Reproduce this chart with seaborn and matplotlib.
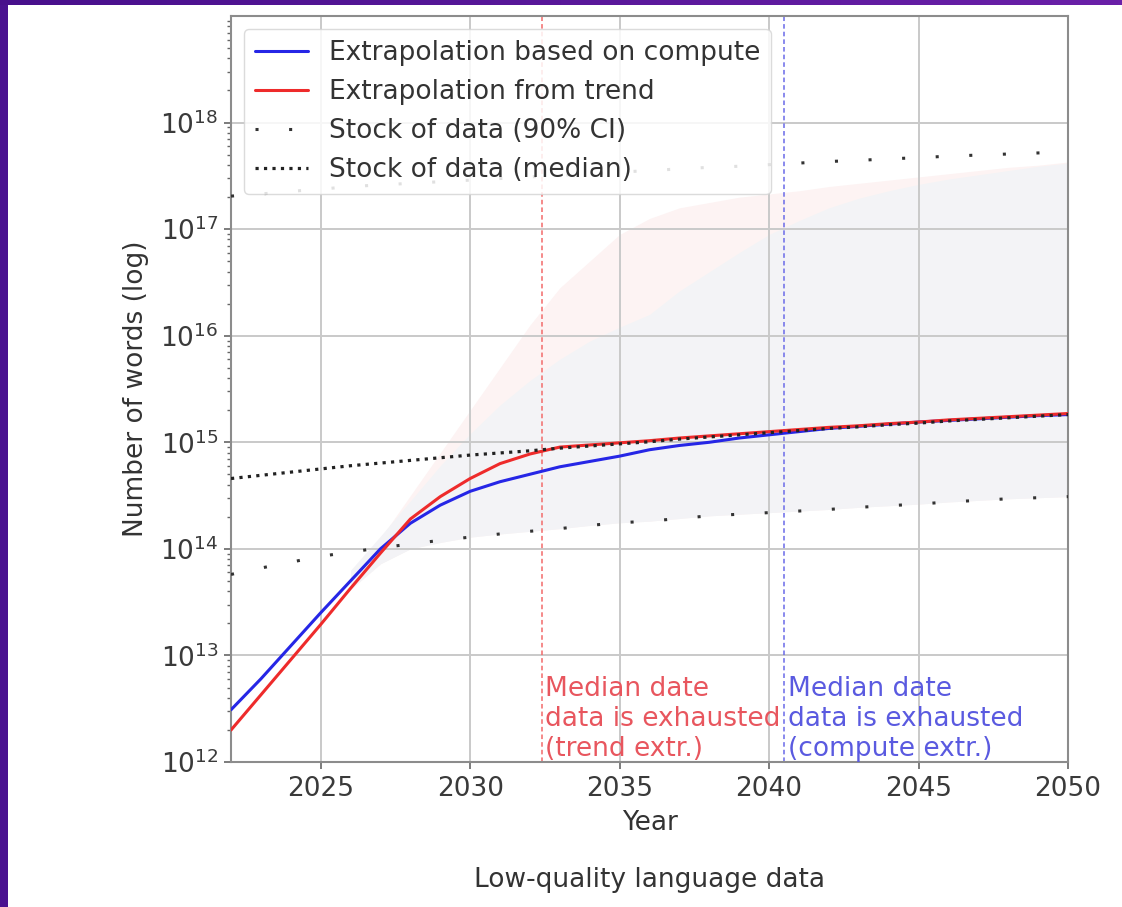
import numpy as np
import matplotlib
matplotlib.use("Agg")
import matplotlib.pyplot as plt
from matplotlib.ticker import LogLocator, NullFormatter
from matplotlib.patches import Rectangle
import seaborn as sns

# ---- data (word counts as log10 values) ----
years = list(range(2022, 2051))

compute_log10 = [12.49, 12.78, 13.09, 13.40, 13.70, 14.00, 14.24, 14.41, 14.54, 14.63,
                 14.70, 14.77, 14.82, 14.87, 14.93, 14.97, 15.00, 15.04, 15.07, 15.10,
                 15.13, 15.15, 15.17, 15.19, 15.205, 15.22, 15.235, 15.25, 15.26]

trend_log10 = [12.30, 12.63, 12.96, 13.29, 13.63, 13.96, 14.28, 14.49, 14.66, 14.80,
               14.89, 14.955, 14.975, 14.995, 15.015, 15.04, 15.06, 15.08, 15.10, 15.12,
               15.14, 15.155, 15.175, 15.19, 15.21, 15.225, 15.24, 15.255, 15.27]

stock_median_log10 = [14.66, 14.69, 14.72, 14.75, 14.78, 14.805, 14.83, 14.855, 14.88, 14.90,
                      14.92, 14.945, 14.965, 14.985, 15.005, 15.03, 15.05, 15.07, 15.09, 15.11,
                      15.13, 15.145, 15.165, 15.18, 15.20, 15.215, 15.23, 15.245, 15.26]

stock_low_log10 = [13.76, 13.82, 13.875, 13.93, 13.97, 14.01, 14.045, 14.08, 14.11, 14.14,
                   14.165, 14.19, 14.22, 14.245, 14.26, 14.285, 14.31, 14.325, 14.34, 14.355,
                   14.37, 14.39, 14.405, 14.42, 14.44, 14.455, 14.47, 14.48, 14.49]

stock_high_log10 = [17.31, 17.33, 17.355, 17.375, 17.40, 17.415, 17.43, 17.445, 17.46, 17.475,
                    17.49, 17.505, 17.52, 17.535, 17.55, 17.565, 17.58, 17.59, 17.605, 17.62,
                    17.635, 17.645, 17.66, 17.67, 17.685, 17.695, 17.705, 17.715, 17.725]

# uncertainty bands of the two projections
band_years = list(range(2026, 2051))
compute_band_low_log10 = [13.62, 13.86, 14.00, 14.06, 14.11, 14.14, 14.165, 14.19, 14.22, 14.245,
                          14.26, 14.285, 14.31, 14.325, 14.34, 14.355, 14.37, 14.39, 14.405, 14.42,
                          14.44, 14.455, 14.47, 14.48, 14.49]
compute_band_high_log10 = [13.80, 14.12, 14.45, 14.78, 15.08, 15.35, 15.58, 15.78, 15.95, 16.08,
                           16.20, 16.42, 16.60, 16.78, 16.95, 17.08, 17.20, 17.29, 17.36, 17.42,
                           17.47, 17.51, 17.55, 17.59, 17.62]
trend_band_low_log10 = compute_band_low_log10
trend_band_high_log10 = [13.75, 14.10, 14.50, 14.90, 15.30, 15.70, 16.10, 16.45, 16.70, 16.95,
                         17.10, 17.20, 17.25, 17.30, 17.33, 17.36, 17.40, 17.43, 17.46, 17.49,
                         17.52, 17.55, 17.58, 17.60, 17.63]

trend_exhaustion_year = 2032.4
compute_exhaustion_year = 2040.5

x_ticks = [2025, 2030, 2035, 2040, 2045, 2050]
y_ticks = [1e12, 1e13, 1e14, 1e15, 1e16, 1e17, 1e18]

# ---- style ----
sns.set_theme(style="whitegrid", rc={
    "font.size": 19, "axes.labelsize": 19, "xtick.labelsize": 19,
    "ytick.labelsize": 19, "legend.fontsize": 19,
    "axes.edgecolor": "#8c8c8c", "axes.linewidth": 1.5,
    "grid.color": "#c9c9c9", "grid.linewidth": 1.4,
    "xtick.bottom": True, "ytick.left": True,
    "xtick.major.size": 5, "ytick.major.size": 5,
    "ytick.minor.size": 3, "ytick.minor.width": 1.0,
    "xtick.major.width": 1.2, "ytick.major.width": 1.2,
    "xtick.color": "#666666", "ytick.color": "#666666",
    "xtick.labelcolor": "#3a3a3a", "ytick.labelcolor": "#3a3a3a",
    "xtick.major.pad": 5, "ytick.major.pad": 4,
    "text.color": "#333333", "axes.labelcolor": "#333333",
})
plt.rcParams["font.family"] = ["DejaVu Sans"]

fig = plt.figure(figsize=(11.22, 9.07), dpi=100)
ax = fig.add_axes([231 / 1122, 1 - 762 / 907, (1068 - 231) / 1122, (762 - 16) / 907])
ax.set_yscale("log")

blue = "#2626e6"
red = "#ee2b2b"

# projection uncertainty bands, pale and drawn beneath the grid
ax.fill_between(band_years, 10 ** np.array(trend_band_low_log10),
                10 ** np.array(trend_band_high_log10),
                color="#fdf3f3", lw=0, zorder=0.2)
ax.fill_between(band_years, 10 ** np.array(compute_band_low_log10),
                10 ** np.array(compute_band_high_log10),
                color="#f3f3f6", lw=0, zorder=0.3)

sns.lineplot(x=years, y=10 ** np.array(compute_log10), ax=ax, color=blue, lw=2.2,
             label="Extrapolation based on compute", zorder=4)
sns.lineplot(x=years, y=10 ** np.array(trend_log10), ax=ax, color=red, lw=2.2,
             label="Extrapolation from trend", zorder=4)
ci_style = (0, (1, 10))
sns.lineplot(x=years, y=10 ** np.array(stock_high_log10), ax=ax, color="#333333", lw=2.2,
             linestyle=ci_style, label="Stock of data (90% CI)", zorder=3)
sns.lineplot(x=years, y=10 ** np.array(stock_low_log10), ax=ax, color="#333333", lw=2.2,
             linestyle=ci_style, zorder=3)
sns.lineplot(x=years, y=10 ** np.array(stock_median_log10), ax=ax, color="#222222", lw=2.3,
             linestyle=":", label="Stock of data (median)", zorder=5)

# exhaustion dates
ax.axvline(trend_exhaustion_year, color="#f26a6a", lw=1.1, ls=(0, (3, 2)), zorder=2)
ax.axvline(compute_exhaustion_year, color="#6a6ae8", lw=1.1, ls=(0, (3, 2)), zorder=2)
ax.text(trend_exhaustion_year + 0.12, 1e12, "Median date\ndata is exhausted\n(trend extr.)",
        color="#e8565e", ha="left", va="bottom", fontsize=19, linespacing=1.2, zorder=6)
ax.text(compute_exhaustion_year + 0.12, 1e12, "Median date\ndata is exhausted\n(compute extr.)",
        color="#5a5ae0", ha="left", va="bottom", fontsize=19, linespacing=1.2, zorder=6)

ax.set_xlim(2022, 2050)
ax.set_ylim(1e12, 1e19)
ax.set_xticks(x_ticks)
ax.set_yticks(y_ticks)
ax.yaxis.set_minor_locator(LogLocator(base=10, subs=np.arange(2, 10), numticks=100))
ax.yaxis.set_minor_formatter(NullFormatter())
ax.grid(True, which="major")
ax.grid(False, which="minor")
ax.set_xlabel("Year", labelpad=6)
ax.set_ylabel("Number of words (log)", labelpad=8)

leg = ax.legend(loc="upper left", frameon=True, framealpha=0.85, edgecolor="#d5d5d5",
                fancybox=True, handlelength=2.0, borderpad=0.4, labelspacing=0.5)
leg.set_zorder(10)

fig.text(649.5 / 1122, 1 - 880 / 907, "Low-quality language data", ha="center", va="center",
         fontsize=19, color="#333333")

# page frame
fig.add_artist(Rectangle((0, 0), 8 / 1122, 1, transform=fig.transFigure,
                         color="#4a1290", lw=0, zorder=20))
bar = fig.add_axes([0, 1 - 5 / 907, 1, 5 / 907], zorder=20)
grad = np.linspace(0, 1, 256)[None, :, None]
c0 = np.array([0x48, 0x10, 0x8c]) / 255
c1 = np.array([0x6a, 0x20, 0xa8]) / 255
bar.imshow(c0 + (c1 - c0) * grad, aspect="auto", extent=(0, 1, 0, 1))
bar.set_axis_off()

fig.savefig("out.png", dpi=100)
